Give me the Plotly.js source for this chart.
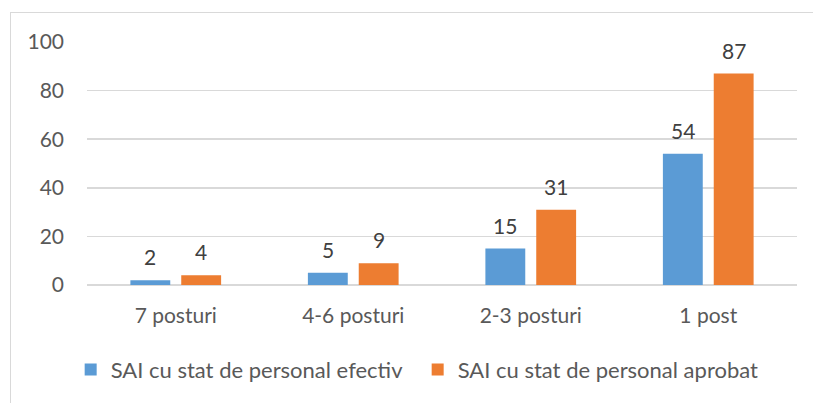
<!DOCTYPE html>
<html>
<head>
<meta charset="utf-8">
<script src="https://cdn.plot.ly/plotly-3.0.1.min.js"></script>
<style>
  body { margin: 0; background: #ffffff; }
  #frame { position: absolute; left: 10px; top: 12px; width: 900px; height: 500px; border: 1.5px solid #d9d9d9; }
  #chart { position: absolute; left: 0; top: 0; width: 813px; height: 403px; }
</style>
</head>
<body>
<div id="frame"></div>
<div id="chart"></div>
<script>
const categories = ["7 posturi", "4-6 posturi", "2-3 posturi", "1 post"];
const efectiv = [2, 5, 15, 54];
const aprobat = [4, 9, 31, 87];
const seriesNames = ["SAI cu stat de personal efectiv", "SAI cu stat de personal aprobat"];
const yTicks = [0, 20, 40, 60, 80, 100];

const fontFam = "Lato, 'Open Sans', sans-serif";
const txtColor = "#595959";
const fs = 21;

const traces = [
  { type: "bar", x: categories, y: efectiv, name: seriesNames[0], marker: { color: "#5B9BD5" } },
  { type: "bar", x: categories, y: aprobat, name: seriesNames[1], marker: { color: "#ED7D31" } }
];

const annotations = [];
[efectiv, aprobat].forEach((vals, si) => {
  vals.forEach((v, i) => {
    annotations.push({
      x: categories[i], y: v, xref: "x", yref: "y", text: String(v),
      showarrow: false, xanchor: "center", yanchor: "bottom",
      xshift: si === 0 ? -25.5 : 25.5, yshift: 9,
      font: { family: fontFam, size: fs, color: "#404040" }
    });
  });
});

const layout = {
  width: 813, height: 403,
  paper_bgcolor: "rgba(0,0,0,0)", plot_bgcolor: "rgba(0,0,0,0)",
  margin: { l: 87, r: 16, t: 42, b: 115 },
  barmode: "group", bargap: 0.427, bargroupgap: 0.216,
  font: { family: fontFam, size: fs, color: txtColor },
  annotations: annotations,
  xaxis: {
    type: "category", showgrid: false, zeroline: false,
    showline: false, ticks: "", ticklabelstandoff: 16,
    tickfont: { family: fontFam, size: fs, color: txtColor }
  },
  yaxis: {
    range: [0, 100], tickvals: yTicks, showgrid: true, gridcolor: "#d9d9d9", gridwidth: 1.5,
    zeroline: true, zerolinecolor: "#d9d9d9", zerolinewidth: 1.5, showline: false,
    ticks: "", ticklabelstandoff: 22,
    tickfont: { family: fontFam, size: fs, color: txtColor }
  },
  showlegend: true,
  legend: {
    orientation: "h", x: -0.023, xanchor: "left", y: -0.262, yanchor: "top",
    font: { family: fontFam, size: 22, color: txtColor },
    entrywidth: 302, entrywidthmode: "pixels", traceorder: "normal"
  }
};

Plotly.newPlot("chart", traces, layout, { displayModeBar: false, staticPlot: true });
</script>
</body>
</html>
